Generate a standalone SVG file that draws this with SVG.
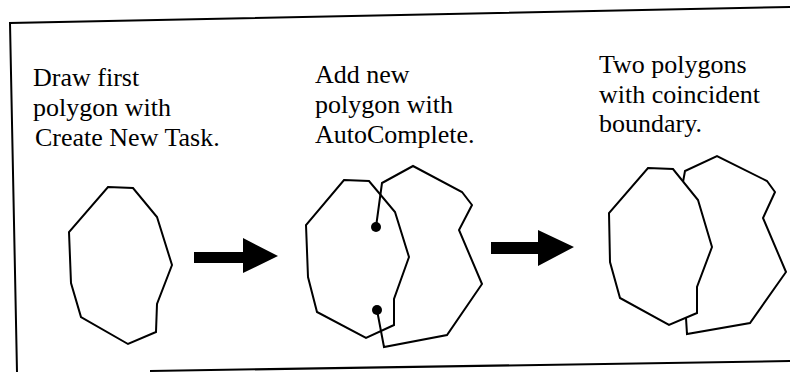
<svg xmlns="http://www.w3.org/2000/svg" width="790" height="372" viewBox="0 0 790 372">
<style>
.t{font-family:"Liberation Serif","Times New Roman",serif;font-size:26px;fill:#000}
.p{fill:none;stroke:#000;stroke-width:2;stroke-linejoin:miter}
.f{fill:none;stroke:#000;stroke-width:2}
</style>
<rect width="790" height="372" fill="#fff"/>
<g id="frame">
<polyline class="f" points="790,7 10,23 17,372"/>
<line class="f" x1="150" y1="371" x2="790" y2="361"/>
</g>
<g id="label1">
<text class="t" x="33" y="86">Draw first</text>
<text class="t" x="33" y="116">polygon with</text>
<text class="t" x="35" y="146">Create New Task.</text>
</g>
<g id="label2">
<text class="t" x="315" y="83">Add new</text>
<text class="t" x="315" y="113">polygon with</text>
<text class="t" x="315" y="143">AutoComplete.</text>
</g>
<g id="label3">
<text class="t" x="599" y="73">Two polygons</text>
<text class="t" x="599" y="103">with coincident</text>
<text class="t" x="599" y="132">boundary.</text>
</g>
<g id="step1">
<polygon class="p" points="108,187 133,188 157,217 172,265 157,304 156,332 128,344 81,317 71,283 69,232"/>
</g>
<g id="step2">
<polygon class="p" points="344,180 369,181 395,212 409,257 394,299 394,325 366,338 317,312 308,277 306,225"/>
<polyline class="p" points="376,227 382,183 413,166 462,192 472,205 459,230 482,284 447,335 384,347 377,310"/>
<circle cx="376" cy="227" r="5" fill="#000"/>
<circle cx="377" cy="310" r="5" fill="#000"/>
</g>
<g id="step3">
<polygon class="p" points="648,168 673,169 698,200 712,247 697,287 697,313 669,325 620,298 610,262 609,213"/>
<polyline class="p" points="683,182 685,171 717,156 767,181 775,192 763,218 786,272 750,323 687,334 686,318"/>
</g>
<g id="connectors">
<polygon fill="#000" points="194,252 243,252 243,238 278,256 243,273 243,263 194,263"/>
<polygon fill="#000" points="491,242 538,242 538,230 574,247 538,266 538,254 491,254"/>
</g>
</svg>
